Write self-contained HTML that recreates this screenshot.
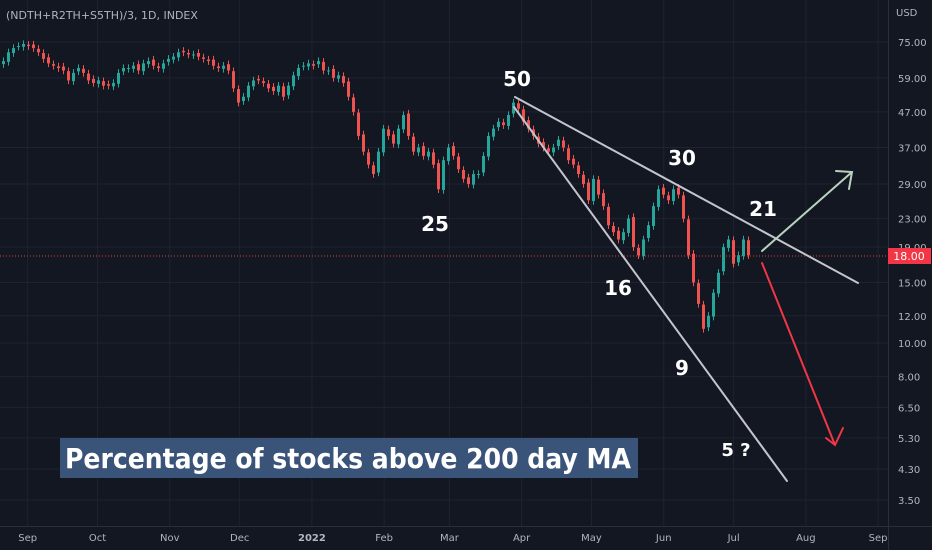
<!DOCTYPE html>
<html><head><meta charset="utf-8"><style>
html,body{margin:0;padding:0;background:#131722;}
svg{display:block;font-family:"DejaVu Sans","Liberation Sans",sans-serif;}
</style></head><body>
<svg id="chart" width="932" height="550" viewBox="0 0 932 550" xmlns="http://www.w3.org/2000/svg">
<rect x="0" y="0" width="932" height="550" fill="#131722"/>
<g id="grid"></g>
<g id="candles"></g>
<line x1="0" y1="256" x2="888" y2="256" stroke="#f23645" stroke-width="1" stroke-dasharray="1,2"/>
<g stroke-linecap="round" fill="none">
<line x1="515" y1="97" x2="858" y2="283" stroke="#c4c4cc" stroke-width="2"/>
<line x1="514" y1="107" x2="787" y2="481" stroke="#c4c4cc" stroke-width="2"/>
<path d="M762 251 L852 172 M836 171 L852 172 L849 189" stroke="#b8d2bd" stroke-width="2"/>
<path d="M762 263 L835 445 M826 438 L835 445 L843 428" stroke="#f23645" stroke-width="2"/>
</g>
<g font-weight="bold" fill="#ffffff" font-size="20" text-anchor="middle">
<text x="517" y="86">50</text>
<text x="682" y="165">30</text>
<text x="763" y="216">21</text>
<text x="435" y="231">25</text>
<text x="618" y="295">16</text>
<text x="682" y="375">9</text>
<text x="736" y="456" font-size="18">5 ?</text>
</g>
<rect x="60" y="438" width="578" height="40" fill="#3a5378"/>
<text x="65" y="468" fill="#ffffff" font-weight="bold" font-size="28" textLength="566" lengthAdjust="spacingAndGlyphs">Percentage of stocks above 200 day MA</text>
<text x="6" y="19" fill="#b2b5be" font-size="11">(NDTH+R2TH+S5TH)/3, 1D, INDEX</text>
<line x1="888.5" y1="0" x2="888.5" y2="550" stroke="#2a2e39"/>
<line x1="0" y1="526.5" x2="932" y2="526.5" stroke="#2a2e39"/>
<text x="896" y="16" fill="#b2b5be" font-size="10">USD</text>
<g id="yaxis"></g>
<g id="xaxis"></g>
<rect x="888" y="248" width="43" height="16" fill="#f23645"/>
<text x="909" y="260" fill="#ffffff" font-size="11" text-anchor="middle">18.00</text>
</svg>
<script>
const closes=[66,70,72,73,74,73,72,70,67,65,64,63,62,58,61,63,61,58,57,58,56,56,57,61,63,63,64,62,65,66,64,63,65,67,68,70,70,69,69,68,67,66,64,63,64,62,55,50,52,56,58,58,57,55,54,56,52,56,60,63,64,65,64,66,62,62,59,60,57,52,47,40,36,33,31,36,42,40,38,42,46,40,36,37,35,36,33,28,34,37,35,32,30,29,31,31,35,40,42,44,43,46,50,48,44,42,40,38,37,36,37,39,37,34,33,31,29,26,30,27,25,22,21,20,21,23,19,18,20,22,25,28,27,26,28,27,23,18,15,13,11,12,14,16,19,20,17,18,20,18];
const yTicks=[75,59,47,37,29,23,19,15,12,10,8,6.5,5.3,4.3,3.5];
const monthLabels=["Sep","Oct","Nov","Dec","2022","Feb","Mar","Apr","May","Jun","Jul","Aug","Sep"];
const monthDayIndex=[5,35,66,96,127,158,186,217,247,278,308,339,370];
const NS="http://www.w3.org/2000/svg";
function yScale(v){return 42+(Math.log(75)-Math.log(v))*149.4;}
function xCandle(i){return 2+i*5;}
function xDay(d){return 16+d*2.33;}
function mk(t,a,p){const e=document.createElementNS(NS,t);for(const k in a)e.setAttribute(k,a[k]);p.appendChild(e);return e;}
const grid=document.getElementById('grid'),ya=document.getElementById('yaxis'),xa=document.getElementById('xaxis'),cg=document.getElementById('candles');
yTicks.forEach(v=>{const y=yScale(v);
const l=mk('line',{x1:0,x2:888,y1:y,y2:y,stroke:'#1f2330'},grid);


const t=mk('text',{x:898,y:y+4,fill:'#b2b5be','font-size':10},ya);t.textContent=v.toFixed(2);

});
monthLabels.forEach((m,i)=>{const x=xDay(monthDayIndex[i]);
const l=mk('line',{x1:x,x2:x,y1:0,y2:526,stroke:'#1f2330'},grid);


const t=mk('text',{x:x,y:541,fill:'#b2b5be','font-size':10,'text-anchor':'middle','font-weight':m==='2022'?'bold':'normal'},xa);t.textContent=m;

});
closes.forEach((c,i)=>{const o=i?closes[i-1]*(i%3===0?1.01:0.995):c*0.98;const x=xCandle(i);
const up=c>=o,col=up?'#26a69a':'#ef5350';
const hi=Math.max(o,c)*1.025,lo=Math.min(o,c)*0.975;
const g=mk('g',{},cg);


mk('line',{x1:x+1.5,x2:x+1.5,y1:yScale(hi),y2:yScale(lo),stroke:col,'stroke-width':1},g);
const y1=yScale(Math.max(o,c)),y2=yScale(Math.min(o,c));
mk('rect',{x:x,y:y1,width:3,height:Math.max(1,y2-y1),fill:col},g);});
</script>
</body></html>
